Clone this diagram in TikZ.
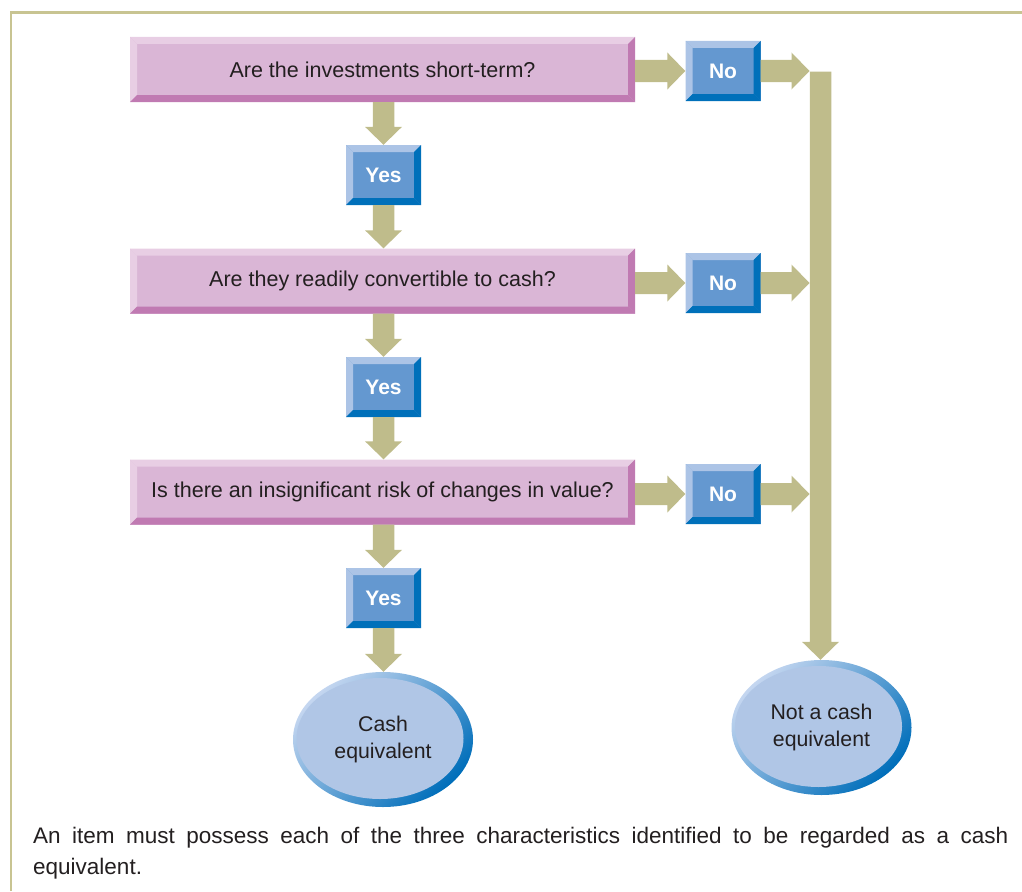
\documentclass[tikz,border=0pt]{standalone}
\usepackage{fontspec}
\setmainfont{Liberation Sans}
\usetikzlibrary{calc,shapes.geometric}

\definecolor{pinkface}{RGB}{218,182,214}
\definecolor{pinklight}{RGB}{232,206,228}
\definecolor{pinkdark}{RGB}{192,122,178}
\definecolor{blueface}{RGB}{100,152,208}
\definecolor{bluelight}{RGB}{172,196,230}
\definecolor{bluedark}{RGB}{0,112,186}
\definecolor{ellface}{RGB}{176,198,230}
\definecolor{elllight}{RGB}{196,214,240}
\definecolor{elldark}{RGB}{0,110,186}
\definecolor{arrowfill}{RGB}{191,188,139}
\definecolor{framecol}{RGB}{200,196,146}
\definecolor{textdark}{RGB}{35,31,32}

% bevelled box: face colour, light (top/left) and dark (bottom/right) edges
\tikzset{
  bevel/.style n args={3}{
    rectangle, inner sep=0pt, fill=#1,
    path picture={
      \fill[#2] (path picture bounding box.north west) -- (path picture bounding box.north east)
        -- ([shift={(-7pt,-7pt)}]path picture bounding box.north east)
        -- ([shift={(7pt,-7pt)}]path picture bounding box.north west) -- cycle;
      \fill[#2] (path picture bounding box.north west) -- ([shift={(7pt,-7pt)}]path picture bounding box.north west)
        -- ([shift={(7pt,7pt)}]path picture bounding box.south west)
        -- (path picture bounding box.south west) -- cycle;
      \fill[#3] (path picture bounding box.south west) -- (path picture bounding box.south east)
        -- ([shift={(-7pt,7pt)}]path picture bounding box.south east)
        -- ([shift={(7pt,7pt)}]path picture bounding box.south west) -- cycle;
      \fill[#3] (path picture bounding box.north east) -- (path picture bounding box.south east)
        -- ([shift={(-7pt,7pt)}]path picture bounding box.south east)
        -- ([shift={(-7pt,-7pt)}]path picture bounding box.north east) -- cycle;
    }},
  question/.style={bevel={pinkface}{pinklight}{pinkdark},
    minimum width=505pt, minimum height=65pt, text=textdark,
    font=\fontsize{21.5}{27}\selectfont},
  answer/.style={bevel={blueface}{bluelight}{bluedark},
    minimum width=75pt, minimum height=60pt, text=white,
    font=\bfseries\fontsize{21}{25}\selectfont},
  outcome/.style={ellipse, inner sep=0pt, minimum width=180pt, minimum height=135pt,
    shading=axis, top color=elllight, bottom color=elldark, shading angle=45,
    align=center, text=textdark, font=\fontsize{21.3}{27}\selectfont,
    path picture={
      \fill[ellface] ([shift={(-3pt,1pt)}]path picture bounding box.center)
        ellipse [x radius=83.5pt, y radius=60.5pt];
    }},
  frameline/.style={draw=framecol, line width=2.6pt},
}

% block arrow pointing down: #1 start, #2 tip
\newcommand{\vblock}[2]{%
  \fill[arrowfill] ($(#1)+(-10.75pt,0pt)$) -- ($(#2)+(-10.75pt,18pt)$) -- ($(#2)+(-18.5pt,18pt)$)
    -- (#2) -- ($(#2)+(18.5pt,18pt)$) -- ($(#2)+(10.75pt,18pt)$) -- ($(#1)+(10.75pt,0pt)$) -- cycle;}
% block arrow pointing right: #1 start, #2 tip
\newcommand{\hblock}[2]{%
  \fill[arrowfill] ($(#1)+(0pt,11pt)$) -- ($(#2)+(-18pt,11pt)$) -- ($(#2)+(-18pt,18.5pt)$)
    -- (#2) -- ($(#2)+(-18pt,-18.5pt)$) -- ($(#2)+(-18pt,-11pt)$) -- ($(#1)+(0pt,-11pt)$) -- cycle;}

\begin{document}
\begin{tikzpicture}[x=1pt,y=-1pt]
\useasboundingbox (0,0) rectangle (1022,891);

% frame
\draw[frameline] (11,891) -- (11,12.5) -- (1022,12.5);

% questions
\node[question] (q1) at (382.5,69.5) {Are the investments short-term?};
\node[question] (q2) at (382.5,281) {Are they readily convertible to cash?};
\node[question] (q3) at (382.5,492) {Is there an insignificant risk of changes in value?};

% answers
\node[answer] (y1) at (383.5,175) {Yes};
\node[answer] (y2) at (383.5,387) {Yes};
\node[answer] (y3) at (383.5,598) {Yes};
\node[answer] (n1) at (723,71) {No};
\node[answer] (n2) at (723,283) {No};
\node[answer] (n3) at (723,494) {No};

% outcomes
\node[outcome] (cash) at (383,739.5) {Cash\\equivalent};
\node[outcome] (notcash) at (821.5,727.5) {Not a cash\\equivalent};

% collecting bar on the right
\coordinate (bartop) at (820.5,71.5);
\coordinate (barleft) at (809.5,71.5);

% yes path
\vblock{y1.north |- q1.south}{y1.north}
\vblock{y1.south}{y1.south |- q2.north}
\vblock{y2.north |- q2.south}{y2.north}
\vblock{y2.south}{y2.south |- q3.north}
\vblock{y3.north |- q3.south}{y3.north}
\vblock{y3.south}{y3.south |- cash.north}

% no path
\hblock{q1.east |- n1.west}{n1.west}
\hblock{q2.east |- n2.west}{n2.west}
\hblock{q3.east |- n3.west}{n3.west}
\vblock{bartop}{bartop |- notcash.north}
\hblock{n1.east}{barleft |- n1.east}
\hblock{n2.east}{barleft |- n2.east}
\hblock{n3.east}{barleft |- n3.east}

% caption
\node[anchor=base west, inner sep=0pt, text=textdark,
      font=\fontsize{22.5}{31}\selectfont] (caption) at (33,843)
  {\parbox[t]{975pt}{\tolerance=10000 An item must possess each of the three characteristics identified to be regarded as a cash\linebreak equivalent.}};
\end{tikzpicture}
\end{document}
